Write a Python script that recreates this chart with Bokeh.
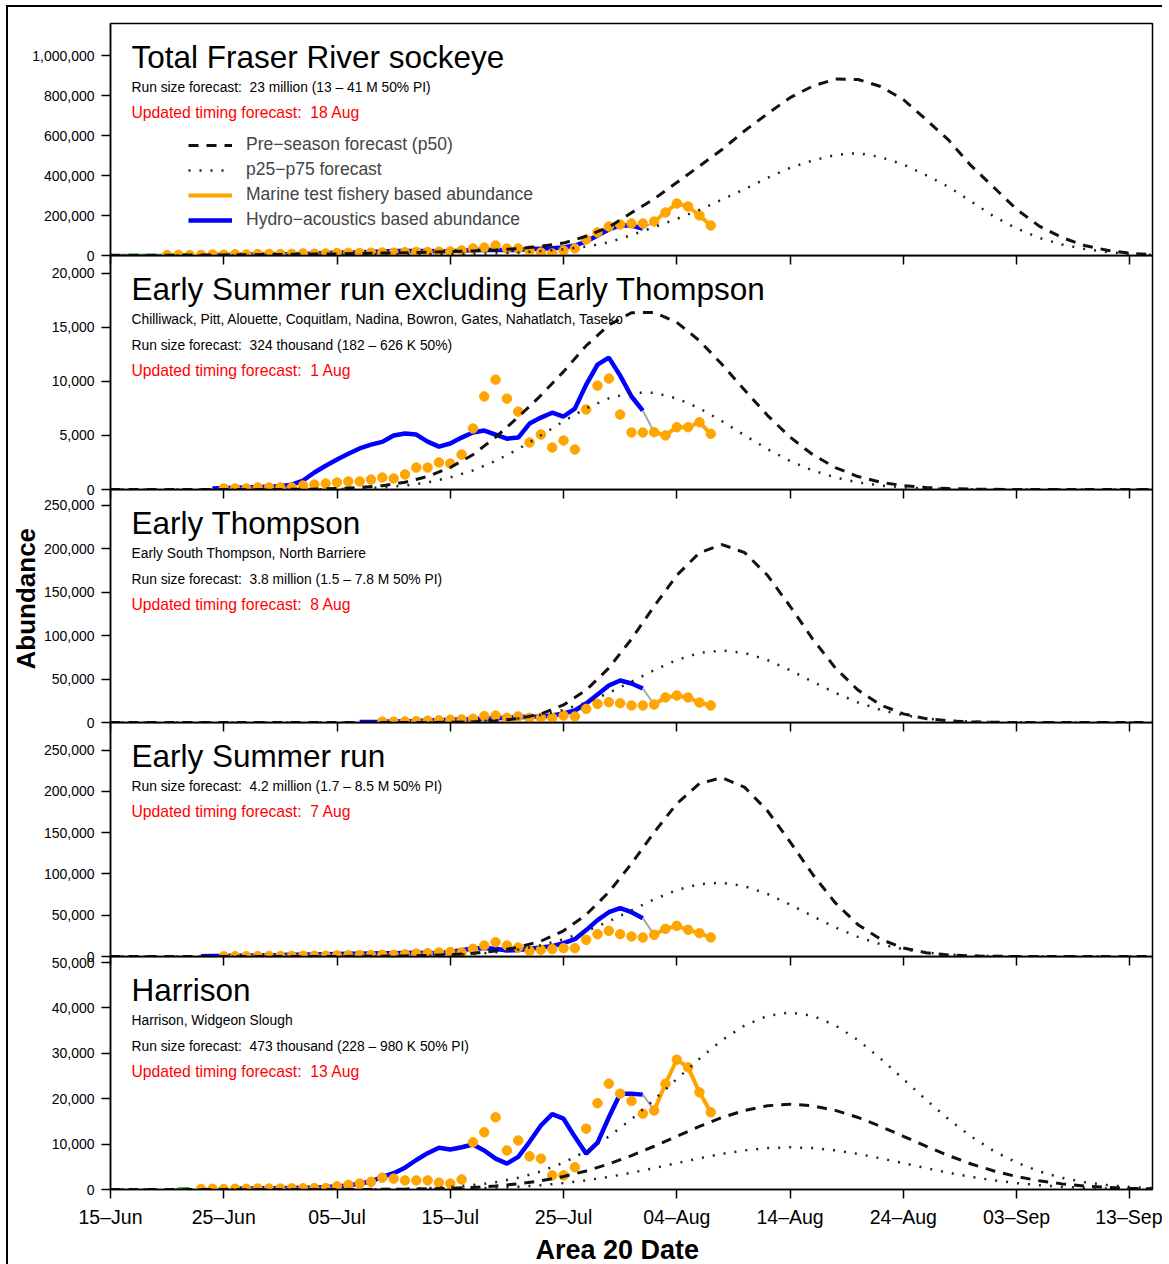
import math
from bokeh.plotting import figure
from bokeh.models import Range1d, FixedTicker, NumeralTickFormatter, Label, Legend, LegendItem, Title
from bokeh.layouts import column
from bokeh.embed import file_html
from bokeh.resources import INLINE

FONT = "Liberation Sans"
NB = "\u00a0"

# ---------------- x axis (days since 15 Jun) ----------------
tick_days = [0, 10, 20, 30, 40, 50, 60, 70, 80, 90]
tick_labels = ["15\u2013Jun", "25\u2013Jun", "05\u2013Jul", "15\u2013Jul", "25\u2013Jul",
               "04\u2013Aug", "14\u2013Aug", "24\u2013Aug", "03\u2013Sep", "13\u2013Sep"]
fc_days = list(range(0, 93, 2))  # forecast curves read every 2 days

# ---------------- Panel 1: Total Fraser River sockeye ----------------
p1_p50 = [1000, 1000, 1000, 2000, 2000, 3000, 4000, 5000, 6000, 7000,
          8000, 10000, 12000, 14000, 16000, 19000, 23000, 28000, 34000, 46000,
          62000, 96000, 142000, 214000, 283000, 365000, 447000, 530000, 624000, 709000,
          789000, 847000, 882000, 880000, 845000, 780000, 680000, 577000, 448000, 340000,
          231000, 147000, 90000, 50000, 26000, 11000, 5000]
p1_p25 = [0, 0, 500, 500, 1000, 1000, 1500, 2000, 2500, 3000,
          3500, 4000, 5000, 6000, 7000, 8000, 9000, 11000, 15000, 22000,
          31000, 44000, 66000, 102000, 142000, 183000, 228000, 280000, 332000, 388000,
          438000, 475000, 503000, 512000, 492000, 455000, 402000, 343000, 270000, 195000,
          135000, 88000, 55000, 33000, 17000, 8000, 3000]
p1_hydro_days = list(range(9, 48))
p1_hydro = [2000, 3000, 3000, 4000, 5000, 5000, 6000, 6000, 8000, 10000,
            12000, 14000, 15000, 16000, 18000, 20000, 22000, 23000, 23000, 22000,
            21000, 22000, 24000, 27000, 29000, 28000, 27000, 28000, 32000, 34000,
            36000, 40000, 50000, 70000, 100000, 130000, 150000, 150000, 135000]
p1_dot_days = list(range(5, 48))
p1_dots = [2000, 3000, 2000, 3000, 5000, 4000, 6000, 5000, 7000, 8000,
           7000, 8000, 10000, 9000, 10000, 12000, 13000, 12000, 14000, 15000,
           14000, 16000, 18000, 17000, 19000, 20000, 25000, 35000, 40000, 50000,
           35000, 35000, 25000, 15000, 10000, 25000, 35000, 80000, 115000, 145000,
           155000, 160000, 160000]
p1_mline_days = [48, 49, 50, 51, 52, 53]
p1_mline = [170000, 215000, 260000, 245000, 200000, 150000]
p1_green_days = [1, 2, 3, 4, 5, 6, 7]
p1_green = [1000, 1000, 1500, 1500, 1500, 2000, 2000]

# ---------------- Panel 2: Early Summer excl. Early Thompson ----------------
p2_p50 = [0, 0, 0, 0, 0, 0, 0, 0, 15, 37,
          83, 180, 355, 670, 1200, 2030, 3220, 4840, 6700, 8700,
          10900, 13300, 15200, 16350, 16380, 15460, 13760, 11560, 9170, 6860,
          4840, 3220, 2030, 1200, 670, 355, 177, 83, 37, 15,
          0, 0, 0, 0, 0, 0, 0]
p2_p25 = [0, 0, 0, 0, 0, 0, 0, 0, 0, 20,
          45, 96, 194, 367, 655, 1110, 1760, 2640, 3740, 5000,
          6310, 7510, 8430, 8940, 8940, 8430, 7510, 6310, 5000, 3740,
          2640, 1760, 1110, 655, 367, 194, 96, 45, 20, 0,
          0, 0, 0, 0, 0, 0, 0]
p2_hydro_days = list(range(9, 48))
p2_hydro = [100, 150, 150, 200, 200, 250, 300, 450, 830, 1570,
            2200, 2770, 3300, 3800, 4150, 4400, 5000, 5170, 5080, 4430,
            3970, 4250, 4800, 5270, 5450, 5080, 4700, 4800, 6100, 6650,
            7100, 6750, 7480, 9700, 11550, 12200, 10530, 8600, 7300]
p2_dot_days = list(range(10, 48))
p2_dots = [90, 90, 90, 185, 185, 185, 185, 370, 460, 550,
           650, 740, 740, 920, 1110, 1020, 1390, 2030, 2030, 2500,
           2400, 3230, 5640, 8600, 10160, 8400, 7200, 4340, 5080, 3880,
           4530, 3700, 7400, 9600, 10260, 6930, 5270, 5270]
p2_mline_days = [48, 49, 50, 51, 52, 53]
p2_mline = [5300, 5000, 5760, 5760, 6220, 5150]

# ---------------- Panel 3: Early Thompson ----------------
p3_p50 = [0, 0, 0, 0, 0, 0, 0, 0, 0, 0,
          0, 0, 0, 20, 70, 225, 670, 1800, 4430, 9900,
          20200, 37300, 62800, 96100, 133900, 169600, 195600, 205000, 195600, 169600,
          133900, 96100, 62800, 37300, 20200, 9900, 4430, 1800, 670, 225,
          70, 20, 0, 0, 0, 0, 0]
p3_p25 = [0, 0, 0, 0, 0, 0, 0, 0, 0, 0,
          0, 0, 0, 80, 200, 500, 1120, 2370, 4660, 8520,
          14500, 23100, 34100, 47000, 60300, 72000, 80100, 83000, 80100, 72000,
          60300, 47000, 34100, 23100, 14500, 8520, 4660, 2370, 1120, 500,
          200, 80, 0, 0, 0, 0, 0]
p3_hydro_days = list(range(22, 48))
p3_hydro = [500, 700, 900, 1200, 1500, 1800, 2200, 2700, 3200, 3500,
            3800, 4200, 4800, 5500, 6000, 6500, 7000, 8000, 10400, 13800,
            21900, 32300, 42600, 48400, 44900, 39200]
p3_dot_days = list(range(24, 48))
p3_dots = [1000, 1000, 1200, 1500, 2000, 2500, 3100, 3500, 4200, 7300,
           8000, 5400, 6900, 5400, 5400, 5400, 8000, 6900, 15700, 21500,
           23400, 22200, 19600, 19600]
p3_mline_days = [48, 49, 50, 51, 52, 53]
p3_mline = [20700, 28800, 31100, 28800, 23000, 19600]

# ---------------- Panel 4: Early Summer run ----------------
p4_p50 = [0, 0, 0, 0, 0, 0, 0, 0, 15, 37,
          83, 180, 355, 690, 1270, 2255, 3890, 6640, 11130, 18600,
          31100, 50600, 78000, 112450, 150280, 185060, 209360, 216560, 204770, 176460,
          138740, 99320, 64830, 38500, 20870, 10255, 4600, 1880, 700, 240,
          70, 20, 0, 0, 0, 0, 0]
p4_p25 = [0, 0, 0, 0, 0, 0, 0, 0, 0, 20,
          45, 96, 224, 447, 855, 1610, 2880, 5010, 8400, 13520,
          20810, 30610, 42530, 55940, 69240, 80430, 87610, 89310, 85100, 75740,
          62940, 48760, 35210, 23755, 14867, 8714, 4756, 2415, 1140, 508,
          200, 80, 30, 0, 0, 0, 0]
p4_hydro_days = list(range(8, 48))
p4_hydro = [300, 500, 700, 900, 1100, 1300, 1500, 1700, 2000, 2200,
            2500, 2800, 3000, 3200, 3400, 3600, 3800, 4000, 4300, 4500,
            4300, 4000, 5500, 7500, 9700, 10200, 9300, 7300, 8000, 9500,
            10900, 12500, 16100, 21000, 32000, 44000, 53600, 58500, 53600, 46400]
p4_dot_days = list(range(10, 48))
p4_dots = [200, 300, 300, 400, 500, 500, 600, 800, 900, 1000,
           1200, 1400, 1500, 1800, 2100, 2000, 2600, 3500, 4000, 4800,
           5500, 4800, 9300, 13300, 17300, 13300, 10900, 6900, 8100, 8900,
           10100, 10100, 20200, 27000, 31100, 27000, 24200, 23000]
p4_mline_days = [48, 49, 50, 51, 52, 53]
p4_mline = [26200, 33500, 37100, 32300, 28200, 23000]

# ---------------- Panel 5: Harrison ----------------
p5_p50 = [0, 0, 0, 0, 0, 0, 0, 0, 0, 0,
          9, 21, 41, 81, 150, 269, 466, 775, 1240, 1920,
          2860, 4080, 5620, 7460, 9530, 11730, 13890, 15870, 17430, 18440,
          18800, 18440, 17430, 15870, 13890, 11730, 9530, 7460, 5620, 4080,
          2860, 1920, 1240, 775, 466, 269, 150]
p5_p75 = [0, 0, 0, 0, 0, 0, 0, 0, 0, 0,
          20, 43, 86, 170, 310, 560, 970, 1610, 2570, 3980,
          5930, 8460, 11660, 15480, 19770, 24340, 28820, 32920, 36150, 38260,
          39000, 38260, 36150, 32920, 28820, 24340, 19770, 15480, 11660, 8460,
          5930, 3980, 2570, 1610, 970, 560, 310]
p5_p25 = [0, 0, 0, 0, 0, 0, 0, 0, 0, 0,
          5, 10, 20, 40, 74, 133, 231, 383, 614, 950,
          1410, 2020, 2780, 3690, 4720, 5800, 6870, 7850, 8620, 9120,
          9300, 9120, 8620, 7850, 6870, 5800, 4720, 3690, 2780, 2020,
          1410, 950, 614, 383, 231, 133, 74]
p5_hydro_days = list(range(11, 48))
p5_hydro = [200, 200, 250, 250, 300, 350, 400, 450, 550, 660,
            880, 1300, 1760, 2800, 3600, 4800, 6500, 8000, 9200, 8800,
            9300, 9900, 8600, 6800, 5700, 7200, 10500, 14100, 16600, 15600,
            11600, 7900, 10300, 15900, 21100, 21100, 20900]
p5_dot_days = list(range(8, 48))
p5_dots = [100, 150, 100, 150, 150, 200, 200, 200, 250, 250,
           300, 300, 700, 1000, 1300, 1700, 2600, 2400, 2000, 2000,
           2000, 1500, 1300, 2200, 10400, 12600, 15900, 8600, 10800, 7300,
           6800, 3100, 3100, 4900, 13400, 19000, 23300, 21100, 19500, 16700]
p5_mline_days = [48, 49, 50, 51, 52, 53]
p5_mline = [17400, 23300, 28600, 26900, 21400, 17000]
p5_green_days = [6, 7]
p5_green = [150, 150]

# ---------------- texts ----------------
titles = ["Total Fraser River sockeye", "Early Summer run excluding Early Thompson",
          "Early Thompson", "Early Summer run", "Harrison"]
stock_lists = [None,
               "Chilliwack, Pitt, Alouette, Coquitlam, Nadina, Bowron, Gates, Nahatlatch, Taseko",
               "Early South Thompson, North Barriere", None, "Harrison, Widgeon Slough"]
run_sizes = ["Run size forecast:" + NB + " 23 million (13 \u2013 41 M 50% PI)",
             "Run size forecast:" + NB + " 324 thousand (182 \u2013 626 K 50%)",
             "Run size forecast:" + NB + " 3.8 million (1.5 \u2013 7.8 M 50% PI)",
             "Run size forecast:" + NB + " 4.2 million (1.7 \u2013 8.5 M 50% PI)",
             "Run size forecast:" + NB + " 473 thousand (228 \u2013 980 K 50% PI)"]
timings = ["Updated timing forecast:" + NB + " 18 Aug", "Updated timing forecast:" + NB + " 1 Aug",
           "Updated timing forecast:" + NB + " 8 Aug", "Updated timing forecast:" + NB + " 7 Aug",
           "Updated timing forecast:" + NB + " 13 Aug"]
legend_labels = ["Pre\u2212season forecast (p50)", "p25\u2212p75 forecast",
                 "Marine test fishery based abundance", "Hydro\u2212acoustics based abundance"]
y_axis_title = "Abundance"
x_axis_title = "Area 20 Date"

y_tops = [1160000, 21640, 268400, 283300, 51330]
y_ticks = [[0, 200000, 400000, 600000, 800000, 1000000],
           [0, 5000, 10000, 15000, 20000],
           [0, 50000, 100000, 150000, 200000, 250000],
           [0, 50000, 100000, 150000, 200000, 250000],
           [0, 10000, 20000, 30000, 40000, 50000]]
frame_heights = [232, 234, 233, 234, 233]

panels = [
    dict(p50=p1_p50, dotted=[p1_p25], hd=p1_hydro_days, h=p1_hydro, dd=p1_dot_days, d=p1_dots,
         md=p1_mline_days, m=p1_mline, gd=p1_green_days, g=p1_green),
    dict(p50=p2_p50, dotted=[p2_p25], hd=p2_hydro_days, h=p2_hydro, dd=p2_dot_days, d=p2_dots,
         md=p2_mline_days, m=p2_mline, gd=None, g=None),
    dict(p50=p3_p50, dotted=[p3_p25], hd=p3_hydro_days, h=p3_hydro, dd=p3_dot_days, d=p3_dots,
         md=p3_mline_days, m=p3_mline, gd=None, g=None),
    dict(p50=p4_p50, dotted=[p4_p25], hd=p4_hydro_days, h=p4_hydro, dd=p4_dot_days, d=p4_dots,
         md=p4_mline_days, m=p4_mline, gd=None, g=None),
    dict(p50=p5_p50, dotted=[p5_p75, p5_p25], hd=p5_hydro_days, h=p5_hydro, dd=p5_dot_days, d=p5_dots,
         md=p5_mline_days, m=p5_mline, gd=p5_green_days, g=p5_green),
]

ORANGE = "#FFA500"
BLUE = "#0000FF"

figs = []
for i, pn in enumerate(panels):
    first = i == 0
    last = i == len(panels) - 1
    fh = frame_heights[i]
    p = figure(frame_width=1042, frame_height=fh,
               x_range=Range1d(0, 92), y_range=Range1d(0, y_tops[i]),
               output_backend="svg", toolbar_location=None,
               min_border_left=102, min_border_right=10,
               min_border_top=16 if first else 0,
               min_border_bottom=74 if last else 20)
    if not first:
        p.margin = (-20, 0, 0, 0)
    p.background_fill_alpha = 0
    p.border_fill_alpha = 0
    p.outline_line_color = "black"
    p.outline_line_width = 1.5
    p.xgrid.visible = False
    p.ygrid.visible = False

    xa = p.xaxis[0]
    xa.ticker = FixedTicker(ticks=tick_days)
    xa.major_tick_out = 9
    xa.major_tick_in = 0
    xa.minor_tick_line_color = None
    xa.major_tick_line_width = 1.5
    xa.axis_line_width = 1.5
    xa.major_label_text_font = FONT
    if last:
        xa.major_label_overrides = {d: l for d, l in zip(tick_days, tick_labels)}
        xa.major_label_text_font_size = "19.5px"
        xa.major_label_standoff = 7
        xa.major_label_text_color = "black"
    else:
        xa.major_label_text_font_size = "1px"
        xa.major_label_text_color = None
        xa.major_label_standoff = 0

    ya = p.yaxis[0]
    ya.ticker = FixedTicker(ticks=y_ticks[i])
    ya.formatter = NumeralTickFormatter(format="0,0")
    ya.major_tick_out = 9
    ya.major_tick_in = 0
    ya.minor_tick_line_color = None
    ya.major_tick_line_width = 1.5
    ya.axis_line_width = 1.5
    ya.major_label_text_font = FONT
    ya.major_label_text_font_size = "14px"
    ya.major_label_standoff = 7
    ya.major_label_text_color = "black"

    # observations
    if pn["gd"] is not None:
        p.line(pn["gd"], pn["g"], line_color="#228B22", line_width=3)
    r_blue = p.line(pn["hd"], pn["h"], line_color=BLUE, line_width=4.5)
    p.line([pn["hd"][-1], pn["md"][0]], [pn["h"][-1], pn["m"][0]],
           line_color="#A8A8A8", line_width=2)
    r_orange = p.line(pn["md"], pn["m"], line_color=ORANGE, line_width=4)
    p.scatter(pn["dd"], pn["d"], size=9.5, marker="circle",
              fill_color=ORANGE, line_color=ORANGE)
    p.scatter(pn["md"], pn["m"], size=9.5, marker="circle",
              fill_color=ORANGE, line_color=ORANGE)

    # forecasts
    r_dash = p.line(fc_days, pn["p50"], line_color="#111111", line_width=3, line_dash="10 8")
    r_dots = []
    for dv in pn["dotted"]:
        r_dots.append(p.line(fc_days, dv, line_color="#222222", line_width=2.5, line_dash="2 9"))

    # texts
    top_y = fh
    p.add_layout(Label(x=21, y=top_y - 33, x_units="screen", y_units="screen",
                       text=titles[i], text_font=FONT, text_font_size="31.5px",
                       text_baseline="middle", text_align="left", text_color="black"))
    yline = top_y - 64
    if stock_lists[i] is not None:
        p.add_layout(Label(x=21, y=yline, x_units="screen", y_units="screen",
                           text=stock_lists[i], text_font=FONT, text_font_size="13.8px",
                           text_baseline="middle", text_align="left", text_color="black"))
        yline -= 26
    p.add_layout(Label(x=21, y=yline, x_units="screen", y_units="screen",
                       text=run_sizes[i], text_font=FONT, text_font_size="13.8px",
                       text_baseline="middle", text_align="left", text_color="black"))
    yline -= 25
    p.add_layout(Label(x=21, y=yline, x_units="screen", y_units="screen",
                       text=timings[i], text_font=FONT, text_font_size="15.7px",
                       text_baseline="middle", text_align="left", text_color="#FF0000"))

    if first:
        legend = Legend(items=[LegendItem(label=legend_labels[0], renderers=[r_dash]),
                               LegendItem(label=legend_labels[1], renderers=[r_dots[0]]),
                               LegendItem(label=legend_labels[2], renderers=[r_orange]),
                               LegendItem(label=legend_labels[3], renderers=[r_blue])],
                        location=(78, 25), orientation="vertical",
                        label_text_font=FONT, label_text_font_size="17.5px",
                        glyph_width=44, glyph_height=20, label_height=20,
                        spacing=4, label_standoff=14, padding=0, margin=0,
                        border_line_alpha=0, background_fill_alpha=0)
        p.add_layout(legend)
    if i == 2:
        p.add_layout(Title(text=y_axis_title, align="left", offset=53, standoff=0,
                           text_font=FONT, text_font_size="26px", text_font_style="bold",
                           text_color="black"), "left")
    if last:
        p.add_layout(Title(text=x_axis_title, align="left", offset=425, standoff=4,
                           text_font=FONT, text_font_size="27px", text_font_style="bold",
                           text_color="black"), "below")
    figs.append(p)

layout = column(*figs, margin=(5, 0, 0, 6),
                styles={"border-left": "2px solid black", "border-top": "2px solid black"})

open("out.html", "w", encoding="utf-8").write(file_html(layout, INLINE))
